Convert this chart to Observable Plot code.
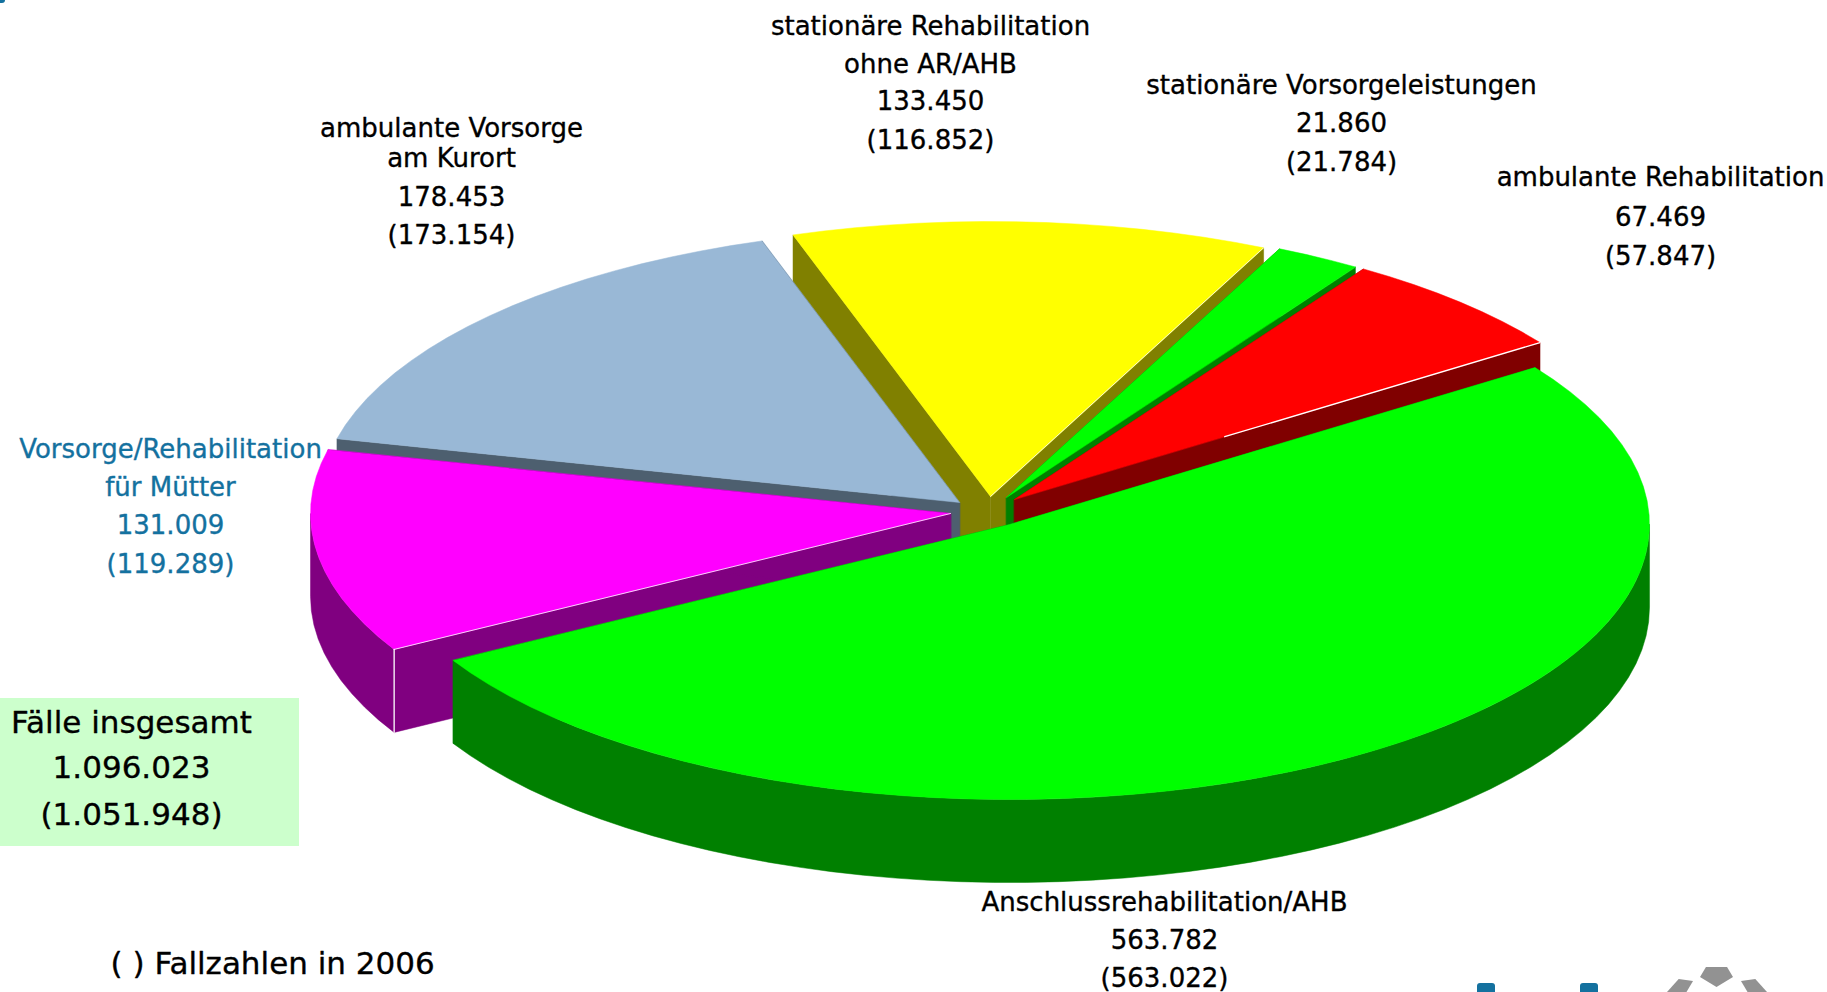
<!DOCTYPE html>
<html><head><meta charset="utf-8">
<style>
html,body{margin:0;padding:0;background:#fff;overflow:hidden}
#wrap{position:relative;width:1827px;height:992px;overflow:hidden}
svg{display:block}
.deco{position:absolute}
</style>
<script src="https://cdn.jsdelivr.net/npm/d3@7"></script>
<script src="https://cdn.jsdelivr.net/npm/@observablehq/plot@0.6"></script>
</head><body><div id="wrap"></div>
<script>
// ---- data (clockwise from the right-hand edge of the largest slice)
const names = [
  ["Anschlussrehabilitation/AHB"],
  ["Vorsorge/Rehabilitation","für Mütter"],
  ["ambulante Vorsorge","am Kurort"],
  ["stationäre Rehabilitation","ohne AR/AHB"],
  ["stationäre Vorsorgeleistungen"],
  ["ambulante Rehabilitation"]
];
const cases2007 = [563782,131009,178453,133450,21860,67469];
const cases2006 = [563022,119289,173154,116852,21784,57847];
const totalNow = 1096023, totalPrev = 1051948;
const topColors  = ["#00ff00","#ff00ff","#99b8d6","#ffff00","#00ff00","#ff0000"];
const wallColors = ["#008000","#800080","#4d5f6f","#808000","#008000","#800000"];
const labelColors= ["#000","#14719f","#000","#000","#000","#000"];

// ---- layout
const W=1827,H=992, RX=640, RY=275, DEPTH=83, START=34.8;
const apexX=[1009,950,959,990,1006,1014], apexY=[524,513,502,496,497,499];
const boundaryNudge=[0,0,0,0,0.6,0]; // the perspective of the original shifts this edge slightly
const labelX=[1164,170,451,930,1341,1660];
const labelY=[[902,940,978],[449,487,525,564],[128,158,197,235],[26,64,101,140],[85,123.5,162],[177,217,256]];
const drawOrder=[3,4,2,5,1,0];
const fmt=d3.formatLocale({decimal:",",thousands:".",grouping:[3],currency:["",""]}).format(",d");
const FONT="'DejaVu Sans'";

// ---- geometry from values
const sum=d3.sum(cases2007);
let acc=START;
const bounds=[...cases2007.map((v,i)=>{const a=acc+boundaryNudge[i];acc-=v/sum*360;return a;}),acc];
const slices=cases2007.map((v,i)=>({i,a0:bounds[i],a1:bounds[i+1]}));
function pt(i,a,dz=0){const r=a*Math.PI/180;return {x:apexX[i]+RX*Math.cos(r),y:apexY[i]-RY*Math.sin(r)+dz};}
function arc(i,a0,a1,dz=0){const n=Math.max(1,Math.ceil(Math.abs(a1-a0)/3));return d3.range(n+1).map(k=>pt(i,a0+(a1-a0)*k/n,dz));}
const poly=(pts,fill)=>Plot.line(pts,{x:"x",y:"y",fill,stroke:fill,strokeWidth:0.5,curve:"linear-closed"});
const marks=[];
for(const o of drawOrder){
  const s=slices[o],i=s.i,c={x:apexX[i],y:apexY[i]},cd={x:c.x,y:c.y+DEPTH};
  const w=wallColors[i];
  const p0=pt(i,s.a0),p1=pt(i,s.a1),q0=pt(i,s.a0,DEPTH),q1=pt(i,s.a1,DEPTH);
  marks.push(poly([c,p0,q0,cd],w),poly([c,p1,q1,cd],w));
  // outer rim: only the part facing the viewer (angles between 0 and -180)
  const v0=Math.min(s.a0,0),v1=Math.max(s.a1,-180);
  if(v0>v1) marks.push(poly([...arc(i,v0,v1),...arc(i,v1,v0,DEPTH)],w));
  marks.push(poly([c,...arc(i,s.a0,s.a1)],topColors[i]));
  // thin light seams seen along the near edges
  const seam=(a,b,sw=1)=>marks.push(Plot.line([a,b],{x:"x",y:"y",stroke:"#fff",strokeWidth:sw}));
  if(i===1){seam(c,p0,0.8);seam(p0,q0,1.3);}
  if(i===3){seam(c,p1,0.8);}
  if(i===5){seam(p1,{x:p1.x+(c.x-p1.x)*0.6,y:p1.y+(c.y-p1.y)*0.6},1.3);}
}
// labels
const rows=names.flatMap((n,i)=>{
  const lines=[...n,fmt(cases2007[i]),"("+fmt(cases2006[i])+")"];
  return lines.map((t,k)=>({t,x:labelX[i],y:labelY[i][k],c:labelColors[i]}));
});
marks.push(Plot.text(rows,{x:"x",y:"y",text:"t",fill:"c",stroke:"c",strokeWidth:0.35,fontSize:26,fontFamily:FONT,textAnchor:"middle",lineAnchor:"middle"}));
// total box
const box=[{x1:0,x2:299,y1:698,y2:846}];
marks.push(Plot.rect(box,{x1:"x1",x2:"x2",y1:"y1",y2:"y2",fill:"#ccffcc"}));
const boxRows=[{t:"Fälle insgesamt",y:723},{t:fmt(totalNow),y:768},{t:"("+fmt(totalPrev)+")",y:815}];
marks.push(Plot.text(boxRows,{x:()=>131,y:"y",text:"t",fill:"#000",stroke:"#000",strokeWidth:0.35,fontSize:31,fontFamily:FONT,textAnchor:"middle",lineAnchor:"middle"}));
marks.push(Plot.text(["( ) Fallzahlen in 2006"],{x:()=>110,y:()=>964,text:d=>d,fill:"#000",stroke:"#000",strokeWidth:0.35,fontSize:31,fontFamily:FONT,textAnchor:"start",lineAnchor:"middle"}));

const chart=Plot.plot({width:W,height:H,margin:0,
  x:{domain:[0,W],axis:null},y:{domain:[H,0],axis:null},
  style:{background:"transparent"},marks});
const wrap=document.getElementById("wrap");
wrap.appendChild(chart);
// cropped logo remnants at the edges of the picture
const deco=[
 "left:1477px;top:983px;width:18px;height:20px;background:#14719f;border-radius:3px",
 "left:1580px;top:983px;width:18px;height:20px;background:#14719f;border-radius:3px",
 "left:1700px;top:967px;width:33px;height:20px;background:#929292;clip-path:polygon(18% 0,82% 0,100% 50%,50% 100%,0 50%)",
 "left:1667px;top:979px;width:26px;height:13px;background:#929292;clip-path:polygon(45% 0,100% 15%,75% 100%,0 100%)",
 "left:1741px;top:979px;width:26px;height:13px;background:#929292;clip-path:polygon(0 15%,55% 0,100% 100%,25% 100%)",
 "left:-8px;top:-8px;width:13px;height:11px;background:#14719f;border-radius:3px"
];
for(const s of deco){const d=document.createElement("div");d.className="deco";d.style.cssText=s;wrap.appendChild(d);}
</script></body></html>
